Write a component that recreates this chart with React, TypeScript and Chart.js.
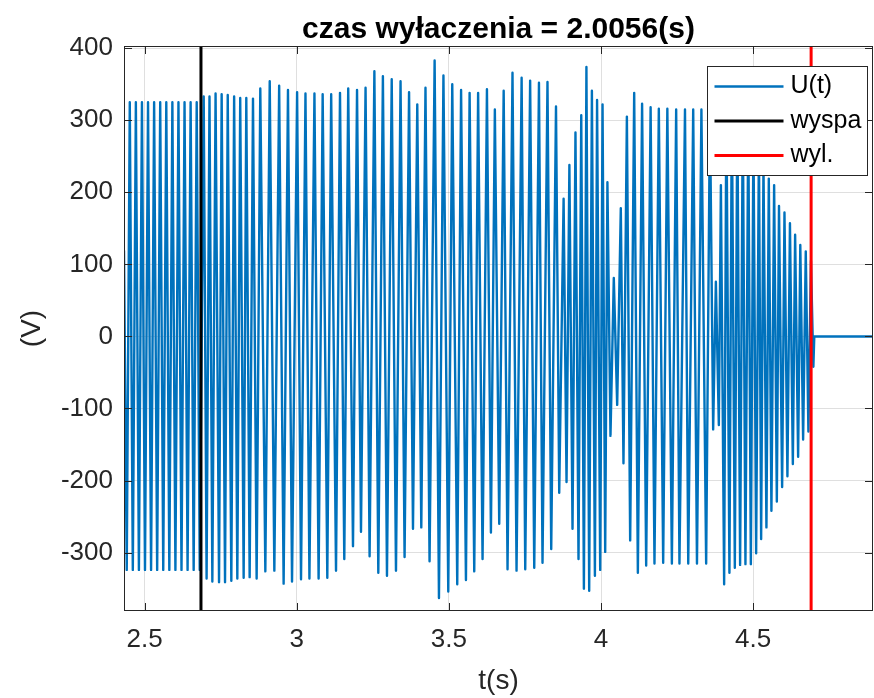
import React, { useEffect, useRef } from "react";
import { Chart, registerables } from "chart.js";

Chart.register(...registerables);

// ---------- texts ----------
const titleText = "czas wyłaczenia = 2.0056(s)";
const xAxisLabel = "t(s)";
const yAxisLabel = "(V)";
const seriesLabels = ["U(t)", "wyspa", "wyl."];

// ---------- axes ----------
const xLimits = [2.432, 4.894];
const yLimits = [-381, 403];
const xTickValues = [2.5, 3, 3.5, 4, 4.5];
const xTickLabels = ["2.5", "3", "3.5", "4", "4.5"];
const yTickValues = [-300, -200, -100, 0, 100, 200, 300, 400];
const yTickLabels = ["-300", "-200", "-100", "0", "100", "200", "300", "400"];

// ---------- events (s) ----------
const islandTime = 2.685; // wyspa
const tripTime = 4.6906; // wyl.

// ---------- U(t): read extrema of the waveform ----------
const startTimes = [2.432];
const startValues = [119];

const peakTimes = [
  2.451, 2.471, 2.491, 2.511, 2.531, 2.551, 2.571, 2.591, 2.611, 2.631, 2.651, 2.671,
  2.694, 2.713, 2.733, 2.753, 2.773, 2.794, 2.814, 2.834, 2.856, 2.88, 2.911, 2.942, 2.971, 3.001,
  3.0285, 3.058, 3.085, 3.113, 3.142, 3.169, 3.198, 3.226, 3.255, 3.283, 3.312, 3.341, 3.369, 3.396,
  3.423, 3.453, 3.482, 3.511, 3.54, 3.568, 3.596, 3.625, 3.651,
  3.68, 3.709, 3.739, 3.767, 3.796, 3.824, 3.852, 3.877, 3.896, 3.916, 3.935, 3.952, 3.97, 3.987,
  4.005, 4.021, 4.042, 4.065, 4.085, 4.109, 4.135, 4.163, 4.19, 4.218, 4.247,
  4.276, 4.303, 4.33, 4.358, 4.3775, 4.394, 4.412, 4.43, 4.448, 4.466, 4.484, 4.501, 4.519, 4.534,
  4.5515, 4.569, 4.585, 4.603, 4.621, 4.638, 4.655, 4.673, 4.69,
];
const peakValues = [
  325, 325, 325, 325, 325, 325, 325, 325, 325, 325, 325, 325,
  333, 333, 337, 336, 335, 333, 331, 331, 330, 344, 354, 348, 342, 339,
  337, 337, 336, 336, 338, 344, 342, 345, 368, 361, 357, 354, 339, 322,
  345, 383, 362, 350, 342, 338, 338, 343, 315,
  341, 366, 359, 355, 352, 353, 319, 191, 238, 283, 307, 374, 341, 328,
  322, 214, 81, 178, 305, 338, 323, 318, 316, 316, 315,
  315, 315, 315, 315, 76, 210, 330, 325, 320, 315, 305, 285, 265, 240,
  219, 210, 181, 172, 157, 141, 127, 118, 105,
];

const troughTimes = [
  2.441, 2.461, 2.481, 2.501, 2.521, 2.541, 2.561, 2.581, 2.601, 2.621, 2.641, 2.661, 2.681,
  2.7035, 2.7224, 2.7444, 2.7641, 2.7848, 2.8045, 2.8253, 2.845, 2.868, 2.8966, 2.9262, 2.9567, 2.9843, 3.0139,
  3.0415, 3.0717, 3.1003, 3.1289, 3.1561, 3.1847, 3.211, 3.2393, 3.2679, 3.2964, 3.326, 3.3543,
  3.3819, 3.4092, 3.4364, 3.4673, 3.4979, 3.5274, 3.556, 3.5833, 3.6106, 3.6381,
  3.6654, 3.6927, 3.7223, 3.7509, 3.7805, 3.8077, 3.8363, 3.8626, 3.8866, 3.9063, 3.926, 3.9437, 3.9611,
  3.9799, 3.9973, 4.0137, 4.0311, 4.0531, 4.0738, 4.0958, 4.1211, 4.1484, 4.1757, 4.2043, 4.2329, 4.2578,
  4.2867, 4.3154, 4.3456, 4.3686, 4.3873, 4.4047, 4.4221, 4.4398, 4.4572, 4.4747, 4.4925, 4.5099,
  4.5263, 4.5437, 4.5601, 4.5779, 4.5953, 4.6127, 4.6305, 4.6479, 4.6643, 4.6817, 4.698,
];
const troughValues = [
  -324, -324, -324, -324, -324, -324, -324, -324, -324, -324, -324, -324, -324,
  -336, -340, -341, -341, -339, -336, -335, -334, -336, -326, -325, -343, -340, -337,
  -336, -336, -335, -325, -309, -291, -271, -305, -328, -332, -325, -306,
  -267, -265, -312, -363, -354, -344, -338, -326, -309, -272,
  -260, -323, -325, -323, -321, -314, -295, -217, -202, -267, -309, -350, -353,
  -332, -324, -299, -138, -95, -176, -283, -328, -318, -315, -314, -315, -315,
  -315, -315, -315, -129, -123, -344, -328, -321, -317, -316, -316, -301,
  -281, -265, -242, -229, -209, -194, -177, -167, -143, -132, -42,
];

const endTimes = [4.701, 4.894];
const endValues = [0, 0];

// ---------- styling ----------
const FONT = "'Liberation Sans', Arial, Helvetica, sans-serif";
const AXIS_COLOR = "#262626";
const GRID_COLOR = "rgba(38,38,38,0.15)";
const seriesColors = ["#0072BD", "#000000", "#FF0000"];
const seriesWidths = [2.4, 3, 3];

function buildWave() {
  const pts: { x: number; y: number }[] = [];
  startTimes.forEach((t, i) => pts.push({ x: t, y: startValues[i] }));
  peakTimes.forEach((t, i) => pts.push({ x: t, y: peakValues[i] }));
  troughTimes.forEach((t, i) => pts.push({ x: t, y: troughValues[i] }));
  endTimes.forEach((t, i) => pts.push({ x: t, y: endValues[i] }));
  pts.sort((a, b) => a.x - b.x);
  return pts;
}

const framePlugin = {
  id: "matlabFrame",
  afterDatasetsDraw(chart: any) {
    const { ctx, chartArea: a, scales } = chart;
    const xs = scales.x;
    const ys = scales.y;
    ctx.save();
    ctx.strokeStyle = AXIS_COLOR;
    ctx.lineWidth = 1;
    const tl = 8;
    ctx.beginPath();
    xs.ticks.forEach((t: any) => {
      const px = Math.round(xs.getPixelForValue(t.value)) + 0.5;
      ctx.moveTo(px, a.bottom);
      ctx.lineTo(px, a.bottom - tl);
      ctx.moveTo(px, a.top);
      ctx.lineTo(px, a.top + tl);
    });
    ys.ticks.forEach((t: any) => {
      const py = Math.round(ys.getPixelForValue(t.value)) + 0.5;
      ctx.moveTo(a.left, py);
      ctx.lineTo(a.left + tl, py);
      ctx.moveTo(a.right, py);
      ctx.lineTo(a.right - tl, py);
    });
    ctx.stroke();
    ctx.strokeRect(a.left + 0.5, a.top + 0.5, a.right - a.left - 1, a.bottom - a.top - 1);

    // legend (northeast, inside the axes)
    const bw = 160;
    const bh = 109;
    const bx = Math.round(a.right - 166) + 0.5;
    const by = Math.round(a.top + 20) + 0.5;
    ctx.fillStyle = "#ffffff";
    ctx.fillRect(bx, by, bw, bh);
    ctx.strokeStyle = AXIS_COLOR;
    ctx.lineWidth = 1;
    ctx.strokeRect(bx, by, bw, bh);
    ctx.font = `25px ${FONT}`;
    ctx.textBaseline = "middle";
    ctx.textAlign = "left";
    chart.data.datasets.forEach((ds: any, i: number) => {
      const cy = by + 20 + i * 34.5;
      ctx.strokeStyle = ds.borderColor;
      ctx.lineWidth = ds.borderWidth;
      ctx.beginPath();
      ctx.moveTo(bx + 7, cy);
      ctx.lineTo(bx + 76, cy);
      ctx.stroke();
      ctx.fillStyle = "#000000";
      ctx.fillText(ds.label, bx + 83, cy);
    });
    ctx.restore();
  },
};

export default function App() {
  const ref = useRef<HTMLCanvasElement>(null);

  useEffect(() => {
    document.body.style.margin = "0";
    const canvas = ref.current;
    if (!canvas) return;

    const chart = new Chart(canvas, {
      type: "line",
      data: {
        datasets: [
          {
            label: seriesLabels[0],
            data: buildWave(),
            borderColor: seriesColors[0],
            borderWidth: seriesWidths[0],
            pointRadius: 0,
            tension: 0,
            borderJoinStyle: "round",
            borderCapStyle: "round",
            order: 3,
          },
          {
            label: seriesLabels[1],
            data: [
              { x: islandTime, y: yLimits[0] },
              { x: islandTime, y: yLimits[1] },
            ],
            borderColor: seriesColors[1],
            borderWidth: seriesWidths[1],
            pointRadius: 0,
            order: 2,
          },
          {
            label: seriesLabels[2],
            data: [
              { x: tripTime, y: yLimits[0] },
              { x: tripTime, y: yLimits[1] },
            ],
            borderColor: seriesColors[2],
            borderWidth: seriesWidths[2],
            pointRadius: 0,
            order: 1,
          },
        ],
      } as any,
      options: {
        responsive: false,
        animation: false,
        devicePixelRatio: 1,
        parsing: false,
        normalized: true,
        layout: { padding: { left: 0, right: 1, top: 0, bottom: 0 } },
        plugins: {
          legend: { display: false },
          tooltip: { enabled: false },
          title: {
            display: true,
            text: titleText,
            color: "#000000",
            fullSize: false,
            font: { family: FONT, size: 30, weight: "bold", lineHeight: 1 },
            padding: { top: 15, bottom: 1 },
          },
        },
        scales: {
          x: {
            type: "linear",
            min: xLimits[0],
            max: xLimits[1],
            afterBuildTicks: (s: any) => {
              s.ticks = xTickValues.map((v) => ({ value: v }));
            },
            afterFit: (s: any) => {
              s.height = 87;
            },
            ticks: {
              autoSkip: false,
              maxRotation: 0,
              padding: 13,
              color: AXIS_COLOR,
              font: { family: FONT, size: 26 },
              callback: (v: any) => {
                const i = xTickValues.indexOf(Number(v));
                return i >= 0 ? xTickLabels[i] : "";
              },
            },
            grid: { color: GRID_COLOR, lineWidth: 1, drawTicks: false },
            border: { display: false },
            title: {
              display: true,
              text: xAxisLabel,
              color: AXIS_COLOR,
              font: { family: FONT, size: 28, lineHeight: 1 },
              padding: { top: 0, bottom: 3 },
            },
          },
          y: {
            type: "linear",
            min: yLimits[0],
            max: yLimits[1],
            afterBuildTicks: (s: any) => {
              s.ticks = yTickValues.map((v) => ({ value: v }));
            },
            afterFit: (s: any) => {
              s.width = 124;
            },
            ticks: {
              autoSkip: false,
              padding: 11,
              color: AXIS_COLOR,
              font: { family: FONT, size: 26 },
              callback: (v: any) => {
                const i = yTickValues.indexOf(Number(v));
                return i >= 0 ? yTickLabels[i] : "";
              },
            },
            grid: { color: GRID_COLOR, lineWidth: 1, drawTicks: false },
            border: { display: false },
            title: {
              display: true,
              text: yAxisLabel,
              color: AXIS_COLOR,
              font: { family: FONT, size: 28, lineHeight: 1 },
              padding: { top: 18, bottom: 0 },
            },
          },
        },
      } as any,
      plugins: [framePlugin],
    });

    return () => chart.destroy();
  }, []);

  return (
    <div style={{ width: 874, height: 698 }}>
      <canvas ref={ref} width={874} height={698} style={{ display: "block" }} />
    </div>
  );
}
